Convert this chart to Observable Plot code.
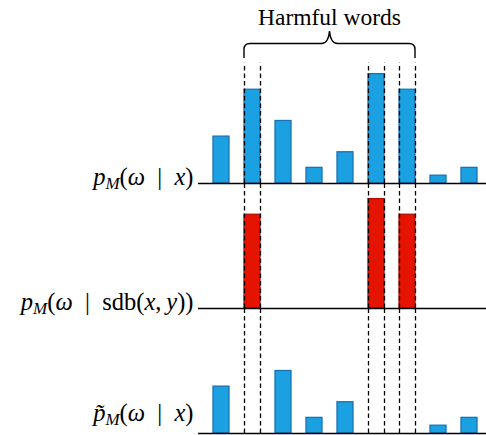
<!DOCTYPE html>
<html>
<head>
<meta charset="utf-8">
<script src="https://cdn.jsdelivr.net/npm/d3@7"></script>
<script src="https://cdn.jsdelivr.net/npm/@observablehq/plot@0.6"></script>
<style>
  html, body { margin: 0; padding: 0; background: #fff; }
  svg { display: block; }
</style>
</head>
<body>
<div id="chart"></div>
<script>
// ---- data ----
const words = ["w1", "w2", "w3", "w4", "w5", "w6", "w7", "w8", "w9"];
const harmful = ["w2", "w6", "w7"];
const rows = ["orig", "sdb", "adj"];
const rowLabels = ["p_M(ω | x)", "p_M(ω | sdb(x, y))", "p\u0303_M(ω | x)"];
const origProb = [3, 6, 4, 1, 2, 7, 6, 0.5, 1];
const sdbProb = [0, 6, 0, 0, 0, 7, 6, 0, 0];
const adjProb = [3, 0, 4, 1, 2, 0, 0, 0.5, 1];
const braceLabel = "Harmful words";

const series = { orig: origProb, sdb: sdbProb, adj: adjProb };
const bars = [];
rows.forEach(r => words.forEach((w, i) => {
  if (series[r][i] > 0) bars.push({ row: r, word: w, value: series[r][i], harmful: r === "sdb" });
}));
const guides = [];
rows.forEach((r, j) => harmful.forEach(w => {
  guides.push({ row: r, word: w, side: -1, top: j === 0 ? 7.7 : 8 });
  guides.push({ row: r, word: w, side: 1, top: j === 0 ? 7.7 : 8 });
}));
const labels = rows.map((r, j) => ({ row: r, label: rowLabels[j] }));

const serif = "'Liberation Serif', 'DejaVu Serif', serif";
const labelOpts = {
  fy: "row", text: "label", frameAnchor: "bottom-left",
  textAnchor: "end", lineAnchor: "middle", dx: -5,
  fontSize: 24.5, fill: "#000", fontFamily: serif
};

const plot = Plot.plot({
  width: 486,
  height: 435,
  marginLeft: 198,
  marginRight: 0,
  marginTop: 58,
  marginBottom: 2,
  style: { fontFamily: serif, background: "#fff" },
  x: { domain: words, paddingInner: 0.487, paddingOuter: 0.36, align: 0.62, axis: null },
  y: { domain: [0, 8], axis: null },
  fy: { domain: rows, padding: 0, axis: null },
  marks: [
    Plot.rectY(bars, {
      x: "word", y: "value", fy: "row",
      fill: d => d.harmful ? "#e51400" : "#1ba1e2",
      stroke: d => d.harmful ? "#b30f00" : "#1a72b5",
      strokeWidth: 1.3
    }),
    Plot.ruleX(guides.filter(d => d.side < 0), {
      x: "word", y1: 0, y2: "top", fy: "row", dx: -8,
      stroke: "#000", strokeWidth: 1.3, strokeDasharray: "4.5,3"
    }),
    Plot.ruleX(guides.filter(d => d.side > 0), {
      x: "word", y1: 0, y2: "top", fy: "row", dx: 8,
      stroke: "#000", strokeWidth: 1.3, strokeDasharray: "4.5,3"
    }),
    Plot.ruleY(rows.map(r => ({ row: r })), { y: 0, fy: "row", stroke: "#000", strokeWidth: 1.5 }),
    Plot.text(labels.slice(0, 2), { ...labelOpts, dy: -6 }),
    Plot.text(labels.slice(2), { ...labelOpts, dy: -20 })
  ]
});
document.getElementById("chart").appendChild(plot);

// ---- math-style formatting of row labels (italic variables, subscript M) ----
d3.select(plot).selectAll('g[aria-label="text"] text').each(function () {
  const t = d3.select(this);
  const s = t.text();
  t.text(null);
  const tokens = s.match(/sdb|_[A-Z]|[a-zω]\u0303?|\|| |[^]/gu);
  let sub = false;
  tokens.forEach(tok => {
    if (tok === " ") return;
    const ts = t.append("tspan");
    if (tok.startsWith("_")) {
      ts.text(tok.slice(1)).attr("font-style", "italic").attr("font-size", 17).attr("dy", 4);
      sub = true;
      return;
    }
    if (sub) { ts.attr("dy", -4); sub = false; }
    if (tok === "sdb") ts.text("sdb");
    else if (tok === "|") ts.text("\u2002|\u2002");
    else if (tok === ",") ts.text(",\u2009");
    else if (/^[a-zω]/u.test(tok)) ts.text(tok).attr("font-style", "italic");
    else ts.text(tok);
  });
});

// ---- brace over the harmful words ----
const sx = plot.scale("x");
const xl = sx.apply("w2");
const xr = sx.apply("w7") + sx.bandwidth;
const mid = (xl + xr) / 2;
const svg = d3.select(plot);
const yb = 58, yh = 43.5, yt = 31;
svg.append("path")
  .attr("d", `M${xl},${yb} V${yh + 6} Q${xl},${yh} ${xl + 6},${yh} H${mid - 8} Q${mid - 1},${yh} ${mid},${yt} Q${mid + 1},${yh} ${mid + 8},${yh} H${xr - 6} Q${xr},${yh} ${xr},${yh + 6} V${yb}`)
  .attr("fill", "none").attr("stroke", "#000").attr("stroke-width", 1.4);
svg.append("text")
  .attr("x", mid).attr("y", 25)
  .attr("text-anchor", "middle")
  .attr("font-family", serif)
  .attr("font-size", 23.5)
  .attr("fill", "#000")
  .text(braceLabel);
</script>
</body>
</html>
